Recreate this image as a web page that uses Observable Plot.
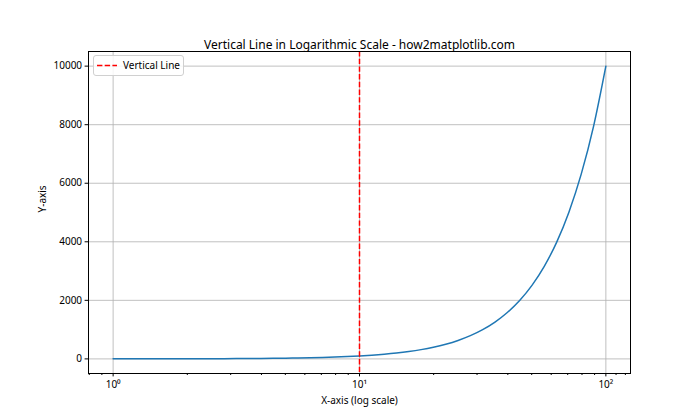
<!DOCTYPE html>
<html>
<head>
<meta charset="utf-8">
<script src="https://cdn.jsdelivr.net/npm/d3@7"></script>
<script src="https://cdn.jsdelivr.net/npm/@observablehq/plot@0.6"></script>
<style>
  html, body { margin: 0; padding: 0; background: #fff; }
  #wrap { position: relative; width: 700px; height: 420px; font-family: "Noto Sans", sans-serif; }
  #legend { position: absolute; left: 93px; top: 55px; width: 91px; height: 21px; border: 1px solid #d0d0d0; border-radius: 3px; background: rgba(255,255,255,0.85); box-sizing: border-box; }
  #legend svg { position: absolute; left: 0; top: 0; }
  #legend span { position: absolute; left: 29px; top: 2px; font-size: 10px; color: #000; white-space: nowrap; }
</style>
</head>
<body>
<div id="wrap"><div id="legend"><svg width="30" height="20"><line x1="3" x2="23" y1="9.5" y2="9.5" stroke="red" stroke-width="1.5" stroke-dasharray="5.4,2.3"/></svg><span>Vertical Line</span></div></div>
<script>
// Curve points (x on log axis, y linear)
const xValues = [1, 1.122, 1.259, 1.413, 1.585, 1.778, 1.995, 2.239, 2.512, 2.818, 3.162, 3.548, 3.981, 4.467, 5.012, 5.623, 6.310, 7.079, 7.943, 8.913, 10, 11.22, 12.59, 14.13, 15.85, 17.78, 19.95, 22.39, 25.12, 28.18, 31.62, 35.48, 39.81, 44.67, 50.12, 56.23, 63.10, 70.79, 79.43, 89.13, 100];
const yValues = [1, 1.259, 1.585, 1.995, 2.512, 3.162, 3.981, 5.012, 6.310, 7.943, 10, 12.59, 15.85, 19.95, 25.12, 31.62, 39.81, 50.12, 63.10, 79.43, 100, 125.9, 158.5, 199.5, 251.2, 316.2, 398.1, 501.2, 631.0, 794.3, 1000, 1259, 1585, 1995, 2512, 3162, 3981, 5012, 6310, 7943, 10000];
const verticalLineX = [10];
const xMajorTicks = [1, 10, 100];
const xMajorLabels = ["10\u2070", "10\u00B9", "10\u00B2"];
const xMinorTicks = [0.8, 0.9, 2, 3, 4, 5, 6, 7, 8, 9, 20, 30, 40, 50, 60, 70, 80, 90, 110, 120];
const yTicks = [0, 2000, 4000, 6000, 8000, 10000];
const titleText = "Vertical Line in Logarithmic Scale - how2matplotlib.com";
const xLabel = "X-axis (log scale)";
const yLabel = "Y-axis";

const data = xValues.map((x, i) => ({x, y: yValues[i]}));
const xmin = Math.pow(10, -0.1), xmax = Math.pow(10, 2.1);
const ymargin = (10000 - 1) * 0.05;

const chart = Plot.plot({
  width: 700,
  height: 420,
  marginLeft: 88,
  marginRight: 70,
  marginTop: 51,
  marginBottom: 47,
  style: {fontFamily: "'Noto Sans', sans-serif", fontSize: "10px", color: "#000", background: "transparent"},
  x: {type: "log", domain: [xmin, xmax]},
  y: {domain: [1 - ymargin, 10000 + ymargin]},
  marks: [
    Plot.gridX(xMajorTicks, {stroke: "#b0b0b0", strokeOpacity: 1, strokeWidth: 0.8}),
    Plot.gridY(yTicks, {stroke: "#b0b0b0", strokeOpacity: 1, strokeWidth: 0.8}),
    Plot.line(data, {x: "x", y: "y", stroke: "#1f77b4", strokeWidth: 1.5, curve: "monotone-x"}),
    Plot.ruleX(verticalLineX, {stroke: "red", strokeWidth: 1.5, strokeDasharray: "5.4,2.3"}),
    Plot.frame({stroke: "#000", strokeWidth: 1}),
    Plot.axisX(xMinorTicks, {tickSize: 2, tickFormat: () => "", label: null}),
    Plot.axisX(xMajorTicks, {tickSize: 3.4, tickPadding: 4, tickFormat: d => xMajorLabels[xMajorTicks.indexOf(d)], label: null, fontSize: 10}),
    Plot.axisY(yTicks, {tickSize: 3.4, tickPadding: 3, tickFormat: d => String(d), label: null, fontSize: 10}),
    Plot.text([titleText], {frameAnchor: "top", dy: -11, fontSize: 12, fill: "#000"}),
    Plot.text([xLabel], {frameAnchor: "bottom", dy: 30, fontSize: 10, fill: "#000"}),
    Plot.text([yLabel], {frameAnchor: "left", dx: -46, rotate: -90, fontSize: 10, fill: "#000"})
  ]
});
const wrap = document.getElementById("wrap");
wrap.insertBefore(chart, wrap.firstChild);
chart.style.position = "absolute";
chart.style.left = "0";
chart.style.top = "0";
</script>
</body>
</html>
